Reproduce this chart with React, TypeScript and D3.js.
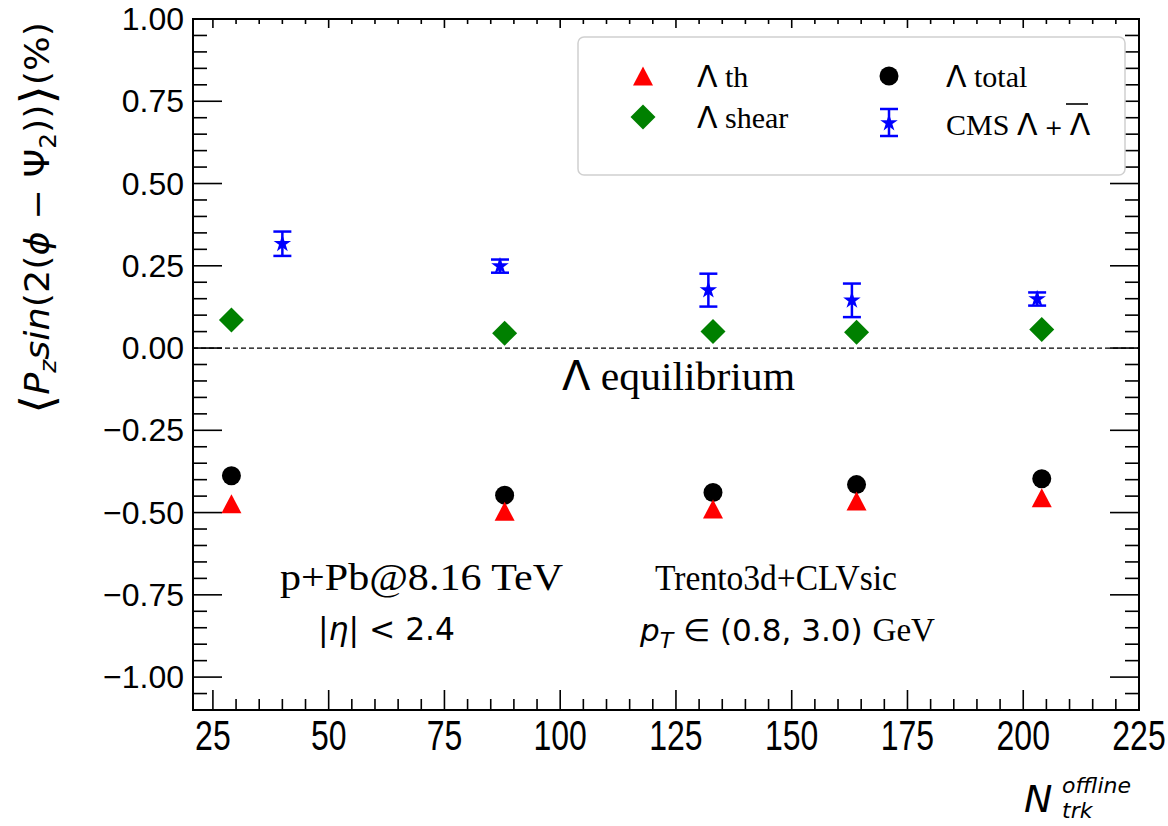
import React from 'react';
import * as d3 from 'd3';

// ---------- data ----------
const modelX = [29, 88, 133, 164, 204];
const lambdaTh = [-0.473, -0.496, -0.489, -0.465, -0.455];
const lambdaTotal = [-0.388, -0.447, -0.439, -0.415, -0.397];
const lambdaShear = [0.085, 0.045, 0.05, 0.048, 0.056];
const cmsX = [40, 87, 132, 163, 203];
const cmsY = [0.317, 0.249, 0.176, 0.145, 0.149];
const cmsErr = [0.037, 0.02, 0.05, 0.051, 0.02];
const xTickValues = [25, 50, 75, 100, 125, 150, 175, 200, 225];
const yTickValues = [-1.0, -0.75, -0.5, -0.25, 0.0, 0.25, 0.5, 0.75, 1.0];

// ---------- layout ----------
const W = 1168, H = 826;
const L = 193, R = 1139, T = 19, B = 710;

const x = d3.scaleLinear().domain([20.7, 225]).range([L, R]);
const y = d3.scaleLinear().domain([-1.1, 1.0]).range([B, T]);

const triUp = {
  draw(ctx: any, size: number) {
    const w = size, h = size * 0.95;
    ctx.moveTo(0, -h / 2);
    ctx.lineTo(w / 2, h / 2);
    ctx.lineTo(-w / 2, h / 2);
    ctx.closePath();
  },
};
const diamondSq = {
  draw(ctx: any, size: number) {
    const r = size;
    ctx.moveTo(0, -r);
    ctx.lineTo(r, 0);
    ctx.lineTo(0, r);
    ctx.lineTo(-r, 0);
    ctx.closePath();
  },
};
const triPath = d3.symbol().type(triUp as any).size(20)() as string;
const diaPath = d3.symbol().type(diamondSq as any).size(12.5)() as string;
const circPath = d3.symbol().type(d3.symbolCircle).size(Math.PI * 9.5 * 9.5)() as string;
const starPath = d3.symbol().type(d3.symbolStar).size(95)() as string;

const SANS = 'Liberation Sans, Arial, sans-serif';
const DJ = 'DejaVu Sans, sans-serif';
const SERIF = 'Liberation Serif, Times New Roman, serif';

function fmt(v: number) {
  const s = Math.abs(v).toFixed(2);
  return v < 0 ? '\u2212' + s : s;
}

function CmsMarker({ cx, cy, lo, hi }: { cx: number; cy: number; lo: number; hi: number }) {
  const cw = 9;
  return (
    <g stroke="#0000ff" strokeWidth={2.5}>
      <line x1={cx} x2={cx} y1={hi} y2={lo} />
      <line x1={cx - cw} x2={cx + cw} y1={hi} y2={hi} />
      <line x1={cx - cw} x2={cx + cw} y1={lo} y2={lo} />
      <path d={starPath} transform={`translate(${cx},${cy})`} fill="#0000ff" stroke="none" />
    </g>
  );
}

export default function App() {
  const xMinor = d3.range(25, 226, 5).filter((v) => v % 25 !== 0 && v > 20.7);
  const yMinor = d3.range(-22, 21).map((k) => k * 0.05).filter((v) => Math.abs(Math.round(v * 100) % 25) !== 0);

  return (
    <svg width={W} height={H} style={{ position: 'absolute', left: 0, top: 0, background: '#fff' }}>
      <rect x={0} y={0} width={W} height={H} fill="#fff" />

      {/* zero line */}
      <line x1={L} x2={R} y1={y(0)} y2={y(0)} stroke="#000" strokeWidth={1.3} strokeDasharray="5,3" />

      {/* ticks */}
      <g stroke="#000" strokeWidth={1.6}>
        {xTickValues.map((v) => (
          <g key={'xt' + v}>
            <line x1={x(v)} x2={x(v)} y1={B} y2={B - 20} />
            <line x1={x(v)} x2={x(v)} y1={T} y2={T + 9} />
          </g>
        ))}
        {xMinor.map((v) => (
          <g key={'xm' + v}>
            <line x1={x(v)} x2={x(v)} y1={B} y2={B - 11} />
            <line x1={x(v)} x2={x(v)} y1={T} y2={T + 5} />
          </g>
        ))}
        {yTickValues.map((v) => (
          <g key={'yt' + v}>
            <line x1={L} x2={L + 29} y1={y(v)} y2={y(v)} />
            <line x1={R} x2={R - 29} y1={y(v)} y2={y(v)} />
          </g>
        ))}
        {yMinor.map((v) => (
          <g key={'ym' + v}>
            <line x1={L} x2={L + 14} y1={y(v)} y2={y(v)} />
            <line x1={R} x2={R - 14} y1={y(v)} y2={y(v)} />
          </g>
        ))}
      </g>

      {/* frame */}
      <rect x={L} y={T} width={R - L} height={B - T} fill="none" stroke="#000" strokeWidth={2} />

      {/* tick labels */}
      <g fontFamily={SANS} fill="#000">
        {yTickValues.map((v) => (
          <text key={'yl' + v} x={184} y={y(v)} fontSize={32} textAnchor="end" dominantBaseline="central">
            {fmt(v)}
          </text>
        ))}
        {xTickValues.map((v) => (
          <text
            key={'xl' + v}
            transform={`translate(${x(v)},735) scale(1,1.35)`}
            fontSize={32}
            textAnchor="middle"
            dominantBaseline="central"
          >
            {v}
          </text>
        ))}
      </g>

      {/* y label */}
      <text
        transform="translate(49,218) rotate(-90)"
        textAnchor="middle"
        fontFamily={DJ}
        fontSize={34}
        fill="#000"
        textLength={392}
        lengthAdjust="spacingAndGlyphs"
      >
        <tspan fontSize={46} dy={4}>{'\u27E8'}</tspan>
        <tspan fontStyle="italic" dy={-4}>P</tspan>
        <tspan fontStyle="italic" fontSize={23} dy={7}>z</tspan>
        <tspan fontStyle="italic" dy={-7}>sin</tspan>
        <tspan>(2(</tspan>
        <tspan fontStyle="italic">{'\u03D5'}</tspan>
        <tspan>{' \u2212 \u03A8'}</tspan>
        <tspan fontSize={23} dy={7}>2</tspan>
        <tspan dy={-7}>))</tspan>
        <tspan fontSize={46} dy={4}>{'\u27E9'}</tspan>
        <tspan dy={-4}>(%)</tspan>
      </text>

      {/* x label */}
      <g fontFamily={DJ} fontStyle="italic" fill="#000">
        <text x={1024} y={812} fontSize={38}>N</text>
        <text x={1062} y={793} fontSize={22}>offline</text>
        <text x={1062} y={818} fontSize={22}>trk</text>
      </g>

      {/* data: Lambda shear */}
      {modelX.map((v, i) => (
        <path key={'sh' + i} d={diaPath} transform={`translate(${x(v)},${y(lambdaShear[i])})`} fill="#008000" />
      ))}
      {/* Lambda total */}
      {modelX.map((v, i) => (
        <path key={'to' + i} d={circPath} transform={`translate(${x(v)},${y(lambdaTotal[i])})`} fill="#000" />
      ))}
      {/* Lambda th */}
      {modelX.map((v, i) => (
        <path key={'th' + i} d={triPath} transform={`translate(${x(v)},${y(lambdaTh[i])})`} fill="#ff0000" />
      ))}
      {/* CMS */}
      {cmsX.map((v, i) => (
        <CmsMarker key={'cms' + i} cx={x(v)} cy={y(cmsY[i])} lo={y(cmsY[i] - cmsErr[i])} hi={y(cmsY[i] + cmsErr[i])} />
      ))}

      {/* legend */}
      <rect x={578} y={37} width={547} height={138} rx={6} fill="#fff" stroke="#d0d0d0" strokeWidth={1.5} />
      <path d={triPath} transform="translate(643,76)" fill="#ff0000" />
      <path d={diaPath} transform="translate(643,117)" fill="#008000" />
      <path d={circPath} transform="translate(889,76)" fill="#000" />
      <CmsMarker cx={889} cy={123} lo={136} hi={109} />
      <g fontSize={30} fill="#000">
        <text x={697} y={87}>
          <tspan fontFamily={DJ}>{'\u039B'}</tspan>
          <tspan fontFamily={SERIF}>{' th'}</tspan>
        </text>
        <text x={697} y={128}>
          <tspan fontFamily={DJ}>{'\u039B'}</tspan>
          <tspan fontFamily={SERIF}>{' shear'}</tspan>
        </text>
        <text x={946} y={87}>
          <tspan fontFamily={DJ}>{'\u039B'}</tspan>
          <tspan fontFamily={SERIF}>{' total'}</tspan>
        </text>
        <text x={946} y={135}>
          <tspan fontFamily={SERIF}>{'CMS '}</tspan>
          <tspan fontFamily={DJ}>{'\u039B'}</tspan>
          <tspan fontFamily={DJ} fontSize={22}>{' + '}</tspan>
          <tspan fontFamily={DJ}>{'\u039B'}</tspan>
        </text>
      </g>
      {/* overbar on anti-lambda */}
      <line x1={1066} x2={1088} y1={104} y2={104} stroke="#000" strokeWidth={1.6} />

      {/* annotations */}
      <g fill="#000">
        <text x={562} y={390} fontSize={40} textLength={233} lengthAdjust="spacingAndGlyphs">
          <tspan fontFamily={DJ}>{'\u039B'}</tspan>
          <tspan fontFamily={SERIF}>{' equilibrium'}</tspan>
        </text>
        <text x={280} y={590} fontSize={37} fontFamily={SERIF} textLength={283} lengthAdjust="spacingAndGlyphs">
          p+Pb@8.16 TeV
        </text>
        <text x={318} y={640} fontSize={32} fontFamily={DJ} textLength={137} lengthAdjust="spacingAndGlyphs">
          <tspan>|</tspan>
          <tspan fontStyle="italic">{'\u03B7'}</tspan>
          <tspan>{'| < 2.4'}</tspan>
        </text>
        <text x={655} y={590} fontSize={35} fontFamily={SERIF} textLength={242} lengthAdjust="spacingAndGlyphs">
          Trento3d+CLVsic
        </text>
        <text x={640} y={641} fontSize={31} fontFamily={DJ} textLength={295} lengthAdjust="spacingAndGlyphs">
          <tspan fontStyle="italic">p</tspan>
          <tspan fontStyle="italic" fontSize={22} dy={7}>T</tspan>
          <tspan dy={-7}>{' \u2208 (0.8, 3.0) '}</tspan>
          <tspan fontFamily={SERIF} fontSize={33}>GeV</tspan>
        </text>
      </g>
    </svg>
  );
}
